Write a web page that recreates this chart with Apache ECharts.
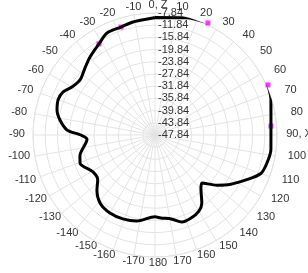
<!DOCTYPE html>
<html><head><meta charset="utf-8">
<script src="https://cdn.jsdelivr.net/npm/echarts@6/dist/echarts.min.js"></script>
<style>html,body{margin:0;padding:0;background:#fff}#c{width:308px;height:273px}</style>
</head><body><div id="c"></div><script>
// pattern angles (deg, -180..180, clockwise from 0) and gain values
const patternAngles = [0, 15, 25, 39, 46, 55, 62, 66, 73, 85.6, 97, 104, 110, 116, 123, 129, 135.6, 139.6, 145.4, 150, 156.5, 162.8, 169, 176, 180,
  -168, -159, -150, -141, -133.5, -128, -121, -110.5, -105.5, -93.5, -90, -86.7, -81, -75.7, -70, -65, -60, -53.7, -46.3, -39.8, -31.6, -25.2, -17.5, -11, -1, 0];
const patternValues = [-9.3, -8.07, -7.22, -4.92, -4.27, -5.22, -6.79, -7.32, -8.10, -9.71, -9.55, -10.0, -10.92, -14.4, -18.2, -21.7, -25.8, -24.6, -20.8, -19.05, -18.17, -17.97, -19.8, -20.56, -21.0,
  -19.0, -18.4, -18.3, -19.2, -21.6, -24.0, -24.2, -21.6, -22.3, -25.5, -23.5, -18.95, -16.3, -14.69, -14.04, -14.53, -16.4, -17.35, -16.07, -14.56, -12.79, -10.89, -10.73, -10.1, -9.48, -9.3];
const markerAngles = [-31.6, -17.5, 25.3, 66.1, 85.6];
const markerValues = [-12.79, -10.73, -7.22, -7.32, -9.71];
const radiusMin = -47.84, radiusMax = -7.84, radiusStep = 4;
const angleLabels = {0: '0, Z', 90: '90, X'};

const toAxis = a => (a < 0 ? a + 360 : a);
const lineData = patternAngles.map((a, i) => [patternValues[i], i === patternAngles.length - 1 ? 360 : toAxis(a)]);
const markerData = markerAngles.map((a, i) => [markerValues[i], toAxis(a)]);

const FONT = 'Liberation Sans';
const txt = {color: '#333', fontSize: 11, fontFamily: FONT};
const R = 122, M = -6;
// label ring layout (slightly elliptical, shifted right as in the reference)
const LX0 = 3, LY0 = -1, LA = 141, LB = 129, LH = 11;
const labelText = v => angleLabels[v] !== undefined ? angleLabels[v] : String(v > 180 ? v - 360 : v);
const ctx = document.createElement('canvas').getContext('2d');
ctx.font = '11px "' + FONT + '"';
const rich = {};
for (let v = 0; v < 360; v += 10) {
  const th = v * Math.PI / 180, s = Math.sin(th), c = Math.cos(th);
  const ax = (R + M) * s, ay = -(R + M) * c;
  const ha = Math.abs(ax) / R < 0.3 ? 'center' : (ax > 0 ? 'left' : 'right');
  const va = Math.abs(ay) / R < 0.3 ? 'middle' : (ay > 0 ? 'top' : 'bottom');
  const w = ctx.measureText(labelText(v)).width;
  const cx0 = ax + (ha === 'left' ? w / 2 : ha === 'right' ? -w / 2 : 0);
  const cy0 = ay + (va === 'top' ? LH / 2 : va === 'bottom' ? -LH / 2 : 0);
  const sx = (LX0 + LA * s) - cx0, sy = (LY0 - LB * c) - cy0;
  let pl = 0, pr = 0, pt = 0, pb = 0;
  if (ha === 'left') pl = Math.max(0, sx); else if (ha === 'right') pr = Math.max(0, -sx); else if (sx > 0) pl = 2 * sx; else pr = -2 * sx;
  if (va === 'top') pt = Math.max(0, sy); else if (va === 'bottom') pb = Math.max(0, -sy); else if (sy > 0) pt = 2 * sy; else pb = -2 * sy;
  rich['a' + v] = Object.assign({}, txt, {padding: [pt, pr, pb, pl]});
}

const chart = echarts.init(document.getElementById('c'));
chart.setOption({
  animation: false,
  polar: {center: [155, 135], radius: R},
  angleAxis: {
    type: 'value', min: 0, max: 360, interval: 10, startAngle: 90, clockwise: true,
    axisLine: {show: true, lineStyle: {color: '#e3e3e3'}},
    axisTick: {show: false},
    splitLine: {show: true, lineStyle: {color: '#e3e3e3'}},
    axisLabel: Object.assign({}, txt, {margin: M, rich: rich, formatter: v => v === 360 ? '' : '{a' + v + '|' + labelText(v) + '}'})
  },
  radiusAxis: {
    type: 'value', min: radiusMin, max: radiusMax, interval: radiusStep,
    axisLine: {show: false}, axisTick: {show: false},
    splitLine: {show: true, lineStyle: {color: '#e3e3e3'}},
    axisLabel: Object.assign({}, txt, {margin: -3, align: 'left', verticalAlign: 'middle', formatter: v => v.toFixed(2)})
  },
  series: [
    {type: 'line', coordinateSystem: 'polar', data: lineData, smooth: 0.3, showSymbol: false, clip: false,
     lineStyle: {color: '#000', width: 3}},
    {type: 'scatter', coordinateSystem: 'polar', data: markerData, symbol: 'rect', symbolSize: 5, clip: false,
     itemStyle: {color: '#ff00ff'}}
  ]
});
</script></body></html>
